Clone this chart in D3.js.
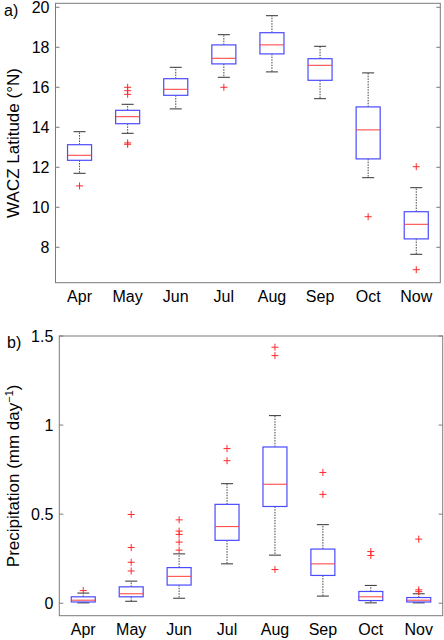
<!DOCTYPE html>
<html>
<head>
<meta charset="utf-8">
<script src="https://cdn.jsdelivr.net/npm/d3@7"></script>
<style>
  body { margin: 0; background: #fff; }
  text { font-family: "Liberation Sans", Arial, sans-serif; fill: #000; }
</style>
</head>
<body>
<div id="main"></div>
<script>

// months on the two x axes (top one really says "Now")
var monthsA = ["Apr", "May", "Jun", "Jul", "Aug", "Sep", "Oct", "Now"];
var monthsB = ["Apr", "May", "Jun", "Jul", "Aug", "Sep", "Oct", "Nov"];

// a) WACZ latitude, box stats per month
var latLow  = [11.7, 13.7, 14.92, 16.5, 16.77, 15.43, 11.48, 7.65];
var latQ1   = [12.35, 14.18, 15.6, 17.17, 17.67, 16.35, 12.42, 8.42];
var latMed  = [12.6, 14.53, 15.9, 17.45, 18.12, 17.1, 13.87, 9.15];
var latQ3   = [13.13, 14.85, 16.43, 18.12, 18.73, 17.43, 15.02, 9.78];
var latHigh = [13.78, 15.15, 17.0, 18.63, 19.58, 18.05, 16.72, 10.98];
var latOut  = [[11.07], [13.15, 13.22, 15.65, 15.83, 16.0], [], [16.0], [], [], [9.53], [6.88, 12.03]];
var latTicks = [8, 10, 12, 14, 16, 18, 20];

// b) precipitation, box stats per month
var prLow  = [0.002, 0.011, 0.028, 0.221, 0.27, 0.04, 0.002, 0.002];
var prQ1   = [0.007, 0.036, 0.102, 0.353, 0.543, 0.156, 0.015, 0.007];
var prMed  = [0.017, 0.053, 0.151, 0.43, 0.668, 0.221, 0.036, 0.017];
var prQ3   = [0.036, 0.092, 0.2, 0.555, 0.877, 0.304, 0.066, 0.032];
var prHigh = [0.057, 0.124, 0.277, 0.671, 1.053, 0.441, 0.1, 0.053];
var prOut  = [[0.071], [0.181, 0.23, 0.313, 0.498], [0.298, 0.343, 0.386, 0.405, 0.468],
              [0.80, 0.868], [0.189, 1.39, 1.437], [0.611, 0.734], [0.268, 0.29], [0.065, 0.075, 0.36]];
var prTicks = [0, 0.5, 1, 1.5];

var width = 444, height = 640;

var svg = d3.select('#main')
  .append("svg")
  .attr('width', width)
  .attr('height', height);

function rows(months, lo, q1, med, q3, hi, out) {
  return months.map((m, i) => ({ pos: i + 1, month: m, lo: lo[i], q1: q1[i], med: med[i], q3: q3[i], hi: hi[i], out: out[i] }));
}

function drawPanel(opt) {
  var g = svg.append("g");

  var x = d3.scaleLinear().domain([0.5, 8.5]).range([opt.left, opt.right]);
  var y = d3.scaleLinear().domain(opt.yDomain).range([opt.bottom, opt.top]);

  var boxW = x(1.25) - x(1);   // half box width in px
  var capW = boxW / 2;

  // frame
  g.append("rect")
    .attr("x", opt.left).attr("y", opt.top)
    .attr("width", opt.right - opt.left)
    .attr("height", opt.bottom - opt.top)
    .attr("fill", "none")
    .attr("stroke", "#7a7a7a")
    .attr("stroke-width", 1);

  // y ticks inside on both sides
  var ticks = g.selectAll('.ytick').data(opt.ticks).enter().append("g");
  ticks.append("line")
    .attr("x1", opt.left).attr("x2", opt.left + 4)
    .attr("y1", d => y(d)).attr("y2", d => y(d))
    .attr("stroke", "#7a7a7a");
  ticks.append("line")
    .attr("x1", opt.right).attr("x2", opt.right - 4)
    .attr("y1", d => y(d)).attr("y2", d => y(d))
    .attr("stroke", "#7a7a7a");
  ticks.append("text")
    .attr("x", opt.left - 6)
    .attr("y", d => y(d))
    .attr("dy", "0.36em")
    .style("text-anchor", "end")
    .style("font-size", "16px")
    .text(d => String(d));

  // month labels
  g.selectAll('.month').data(opt.data).enter().append("text")
    .attr("x", d => x(d.pos))
    .attr("y", opt.bottom + 19)
    .style("text-anchor", "middle")
    .style("font-size", "16px")
    .text(d => d.month);

  var box = g.selectAll('.box').data(opt.data).enter().append("g");

  // whiskers, dashed
  box.append("line")
    .attr("x1", d => x(d.pos)).attr("x2", d => x(d.pos))
    .attr("y1", d => y(d.q3)).attr("y2", d => y(d.hi))
    .attr("stroke", "#444").attr("stroke-dasharray", "1.5,1.2");
  box.append("line")
    .attr("x1", d => x(d.pos)).attr("x2", d => x(d.pos))
    .attr("y1", d => y(d.q1)).attr("y2", d => y(d.lo))
    .attr("stroke", "#444").attr("stroke-dasharray", "1.5,1.2");

  // caps
  box.append("line")
    .attr("x1", d => x(d.pos) - capW).attr("x2", d => x(d.pos) + capW)
    .attr("y1", d => y(d.hi)).attr("y2", d => y(d.hi))
    .attr("stroke", "#333");
  box.append("line")
    .attr("x1", d => x(d.pos) - capW).attr("x2", d => x(d.pos) + capW)
    .attr("y1", d => y(d.lo)).attr("y2", d => y(d.lo))
    .attr("stroke", "#333");

  // box
  box.append("rect")
    .attr("x", d => x(d.pos) - boxW)
    .attr("y", d => y(d.q3))
    .attr("width", 2 * boxW)
    .attr("height", d => y(d.q1) - y(d.q3))
    .attr("fill", "#fff")
    .attr("stroke", "#4a4aff")
    .attr("stroke-width", 1.2);

  // median
  box.append("line")
    .attr("x1", d => x(d.pos) - boxW).attr("x2", d => x(d.pos) + boxW)
    .attr("y1", d => y(d.med)).attr("y2", d => y(d.med))
    .attr("stroke", "#ff3b3b");

  // outliers as red +
  var outs = [];
  opt.data.forEach(d => d.out.forEach(v => outs.push({ pos: d.pos, v: v })));
  g.selectAll('.out').data(outs).enter().append("path")
    .attr("d", d => {
      var cx = x(d.pos), cy = y(d.v), s = 3.5;
      return "M" + (cx - s) + "," + cy + "H" + (cx + s) + "M" + cx + "," + (cy - s) + "V" + (cy + s);
    })
    .attr("stroke", "#ff2a2a")
    .attr("stroke-width", 1);

  // panel letter
  g.append("text")
    .attr("x", opt.letterX).attr("y", opt.letterY)
    .style("font-size", "16px")
    .text(opt.letter);

  // y title, centred on the plot
  var t = g.append("text")
    .attr("transform", "translate(19," + ((opt.top + opt.bottom) / 2) + ")rotate(-90)")
    .style("text-anchor", "middle")
    .style("font-size", "17px");
  opt.title(t);
}

drawPanel({
  data: rows(monthsA, latLow, latQ1, latMed, latQ3, latHigh, latOut),
  left: 55.5, right: 440.3, top: 3.3, bottom: 282.7,
  yDomain: [6.23, 20.2],
  ticks: latTicks,
  letter: "a)", letterX: 4, letterY: 16,
  title: t => t.text("WACZ Latitude (°N)")
});

drawPanel({
  data: rows(monthsB, prLow, prQ1, prMed, prQ3, prHigh, prOut),
  left: 59.3, right: 442.7, top: 336, bottom: 615.7,
  yDomain: [-0.07, 1.5],
  ticks: prTicks,
  letter: "b)", letterX: 7, letterY: 348,
  title: t => {
    t.append("tspan").text("Precipitation (mm day");
    t.append("tspan").attr("baseline-shift", "super").style("font-size", "11px").text("−1");
    t.append("tspan").text(")");
  }
});

</script>
</body>
</html>
